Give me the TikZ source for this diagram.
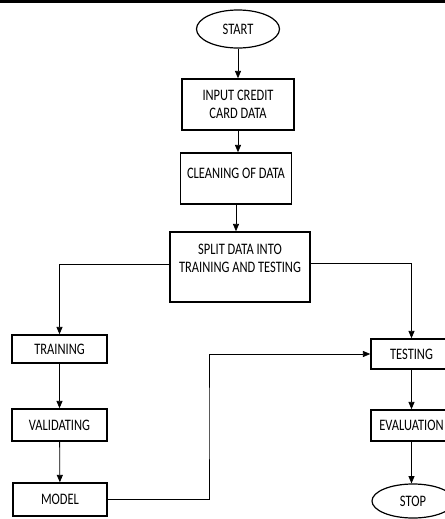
\documentclass[tikz,border=0pt]{standalone}
\usepackage{fontspec}
\setmainfont{Carlito}[FakeStretch=0.78]
\usetikzlibrary{positioning,calc,arrows.meta,shapes.geometric}

\begin{document}
\begin{tikzpicture}[x=0.75pt, y=-0.75pt,
  every node/.append style={font=\fontsize{12}{14}\selectfont},
  stepbox/.style={draw, line width=1.1pt, align=center, inner sep=2pt},
  term/.style={ellipse, draw, line width=0.9pt, inner sep=0pt},
  flow/.style={line width=0.6pt, -{Triangle[width=4.5pt,length=5.5pt]}},
]
\clip (0,0) rectangle (445,519);
\fill (0,0) rectangle (445,2.5);

% main column
\node[term, minimum width=62.25pt, minimum height=28.5pt] (start) at (238,29) {START};
\node[stepbox, minimum width=84pt, minimum height=38.25pt] (input) at (238,104.5)
  {INPUT CREDIT\\CARD DATA};
\node[stepbox, minimum width=83.25pt, minimum height=38.25pt, text depth=8pt] (clean) at (236,178.5)
  {CLEANING OF DATA};
\node[stepbox, minimum width=105pt, minimum height=52.5pt, text depth=13pt] (split) at (240,267)
  {SPLIT DATA INTO\\TRAINING AND TESTING};

% left branch
\node[stepbox, minimum width=71.25pt, minimum height=21pt] (train) at (59.5,349) {TRAINING};
\node[stepbox, minimum width=71.25pt, minimum height=24pt] (valid) at (59.5,425) {VALIDATING};
\node[stepbox, minimum width=70.5pt, minimum height=24.75pt] (model) at (60,499.5) {MODEL};

% right branch
\node[stepbox, minimum width=60.75pt, minimum height=22.5pt] (test) at (411.5,354) {TESTING};
\node[stepbox, minimum width=60.75pt, minimum height=23.25pt] (eval) at (411.5,425.5) {EVALUATION};
\node[term, minimum width=61.5pt, minimum height=25.5pt] (stop) at (413,501) {STOP};

\coordinate (bend) at (209,420);

\draw[flow] (start) -- (start |- input.north);
\draw[flow] (input) -- (input |- clean.north);
\draw[flow] (clean) -- (clean |- split.north);
\draw[flow] ([yshift=2.25pt]split.west) -| (train.north);
\draw[flow] ([yshift=3pt]split.east) -| (test.north);
\draw[flow] (train) -- (valid);
\draw[flow] (valid) -- (model);
\draw[flow] (model.east) -| (bend) |- (test.west);
\draw[flow] (test) -- (eval);
\draw[flow] (eval) -- (eval |- stop.north);
\end{tikzpicture}
\end{document}
